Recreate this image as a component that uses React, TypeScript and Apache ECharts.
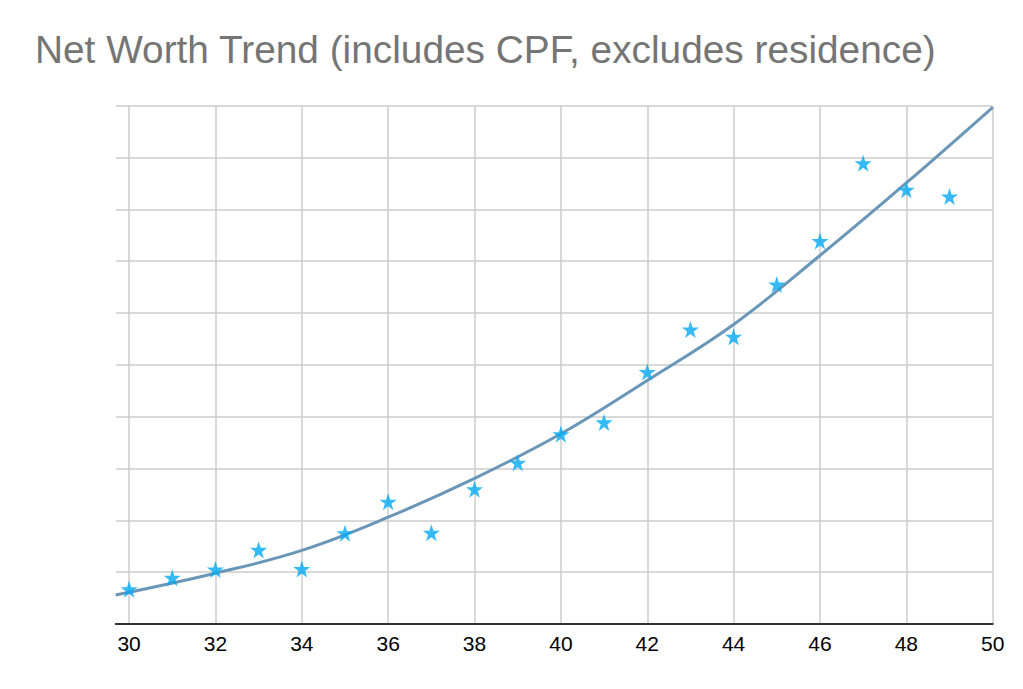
import React, { useEffect, useRef } from "react";
import * as echarts from "echarts";

const titleText = "Net Worth Trend (includes CPF, excludes residence)";
const ages = [30, 31, 32, 33, 34, 35, 36, 37, 38, 39, 40, 41, 42, 43, 44, 45, 46, 47, 48, 49];
const netWorth = [6.7, 8.9, 10.5, 14.3, 10.6, 17.5, 23.6, 17.6, 26.0, 31.1, 36.6, 38.9, 48.6, 56.8, 55.4, 65.5, 73.9, 88.9, 83.8, 82.5];
const trendAges = [29.69, 32, 34, 36, 38, 40, 42, 44, 46, 48, 50];
const trendValues = [5.6, 9.8, 14.2, 20.6, 28.1, 36.7, 47.0, 57.8, 71.1, 85.1, 99.7];
const xTickLabels = [30, 32, 34, 36, 38, 40, 42, 44, 46, 48, 50];
const xMin = 29.69;
const xMax = 50;

const STAR = "path://M50,0 L61.8,35.3 L98.5,35.3 L68.9,57.2 L79.9,92.6 L50,70.9 L20.1,92.6 L31.1,57.2 L1.5,35.3 L38.2,35.3 Z";

export default function App() {
  const ref = useRef<HTMLDivElement>(null);
  useEffect(() => {
    if (!ref.current) return;
    const chart = echarts.init(ref.current, null, { renderer: "svg" });
    chart.setOption({
      animation: false,
      backgroundColor: "#ffffff",
      title: {
        text: titleText,
        left: 30,
        top: 25,
        textStyle: {
          fontFamily: "'Liberation Sans', Arial, sans-serif",
          fontSize: 38.8,
          fontWeight: "normal",
          color: "#757575",
        },
      },
      grid: { left: 115.7, right: 30.3, top: 105.7, bottom: 65 },
      xAxis: {
        type: "value",
        min: xMin,
        max: xMax,
        axisLine: { show: true, onZero: false, lineStyle: { color: "#333333", width: 2 } },
        axisTick: { show: false, customValues: xTickLabels },
        axisLabel: {
          customValues: xTickLabels,
          color: "#000000",
          fontSize: 21,
          fontFamily: "'Liberation Sans', Arial, sans-serif",
          margin: 9,
        },
        splitLine: { show: true, lineStyle: { color: "#cccccc", width: 1.5 } },
      },
      yAxis: {
        type: "value",
        min: 0,
        max: 100,
        interval: 10,
        axisLine: { show: false },
        axisTick: { show: false },
        axisLabel: { show: false },
        splitLine: { show: true, lineStyle: { color: "#cccccc", width: 1.5 } },
      },
      series: [
        {
          type: "line",
          data: trendAges.map((a, i) => [a, trendValues[i]]),
          smooth: 0.4,
          showSymbol: false,
          clip: false,
          lineStyle: { color: "#6a96b8", width: 3 },
          z: 2,
        },
        {
          type: "scatter",
          data: ages.map((a, i) => [a, netWorth[i]]),
          symbol: STAR,
          symbolSize: 17,
          itemStyle: { color: "#03a9f4" },
          z: 3,
        },
      ],
    });
    return () => chart.dispose();
  }, []);
  return <div ref={ref} style={{ width: 1023, height: 689, position: "absolute", left: 0, top: 0 }} />;
}
